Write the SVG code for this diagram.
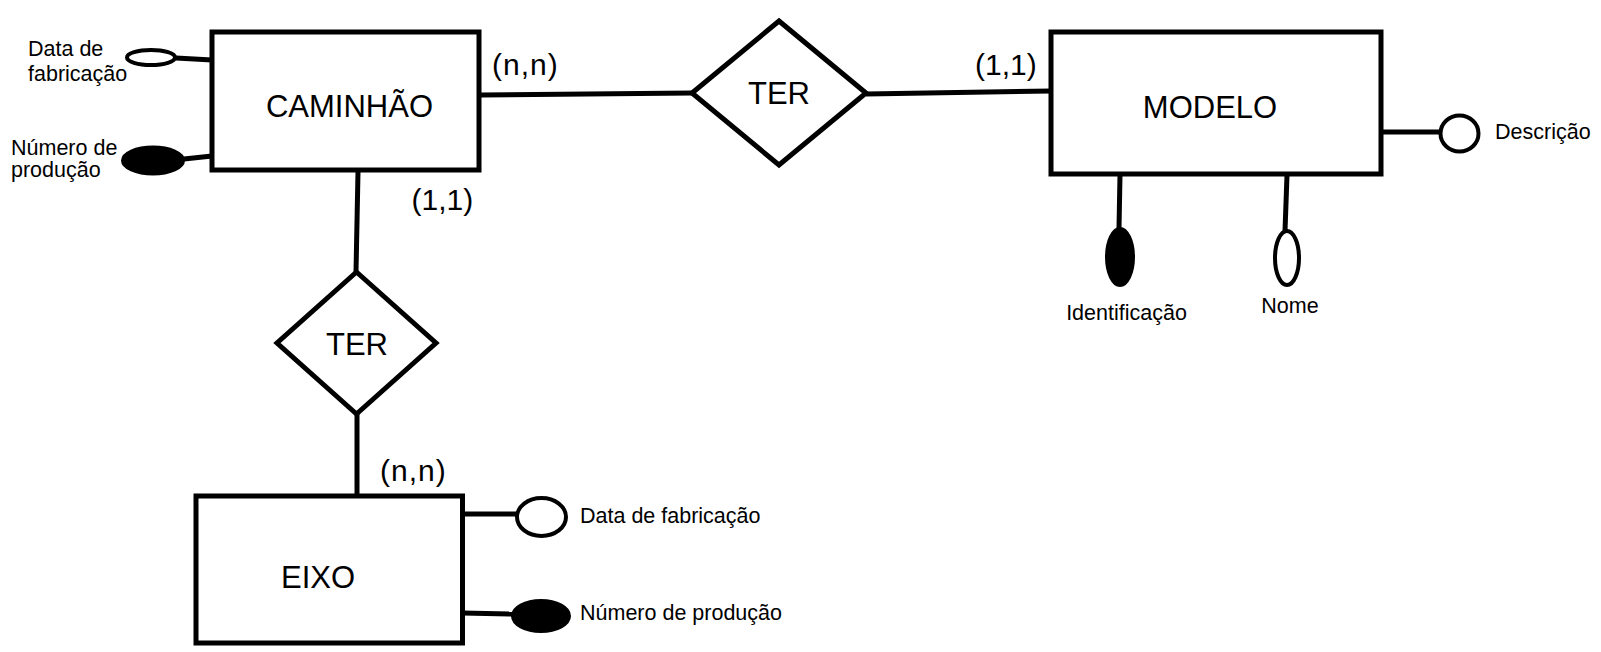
<svg xmlns="http://www.w3.org/2000/svg" width="1601" height="652" viewBox="0 0 1601 652">
<style>
.box{fill:#fff;stroke:#000;stroke-width:5}
.rel{fill:#fff;stroke:#000;stroke-width:5}
.ln{stroke:#000;stroke-width:5;fill:none}
.att{fill:#fff;stroke:#000;stroke-width:4}
.key{fill:#000;stroke:#000;stroke-width:2}
.big{font-family:"Liberation Sans",Arial,sans-serif;font-size:31px;fill:#000}
.card{font-family:"Liberation Sans",Arial,sans-serif;font-size:30px;fill:#000}
.sm{font-family:"Liberation Sans",Arial,sans-serif;font-size:21.5px;fill:#000}
</style>
<rect width="1601" height="652" fill="#fff"/>
<g id="connectors">
<line class="ln" x1="481" y1="95" x2="692" y2="93"/>
<line class="ln" x1="866" y1="94" x2="1051" y2="91"/>
<line class="ln" x1="358" y1="172" x2="356" y2="272"/>
<line class="ln" x1="357" y1="414" x2="357" y2="496"/>
<line class="ln" x1="176" y1="58" x2="212" y2="60"/>
<line class="ln" x1="184" y1="159" x2="212" y2="156"/>
<line class="ln" x1="1381" y1="132" x2="1439" y2="132"/>
<line class="ln" x1="1120" y1="175" x2="1119" y2="228"/>
<line class="ln" x1="1287" y1="175" x2="1285" y2="231"/>
<line class="ln" x1="462" y1="514" x2="516" y2="514"/>
<line class="ln" x1="462" y1="613" x2="512" y2="614"/>
</g>
<g id="caminhao">
<rect class="box" x="212" y="32" width="267" height="138"/>
<text class="big" x="349.5" y="117" text-anchor="middle">CAMINHÃO</text>
</g>
<g id="caminhao-data">
<ellipse class="att" cx="151" cy="57.5" rx="24" ry="7.5"/>
<text class="sm" x="28" y="56">Data de</text>
<text class="sm" x="28" y="81">fabricação</text>
</g>
<g id="caminhao-numero">
<ellipse class="key" cx="153" cy="160.5" rx="31" ry="14"/>
<text class="sm" x="11" y="155">Número de</text>
<text class="sm" x="11" y="177">produção</text>
</g>
<g id="ter1">
<polygon class="rel" points="779,21 866,93 779,165 692,93"/>
<text class="big" x="779" y="104" text-anchor="middle">TER</text>
</g>
<text class="card" x="492" y="75" letter-spacing="1">(n,n)</text>
<text class="card" x="975" y="75">(1,1)</text>
<g id="modelo">
<rect class="box" x="1051" y="32" width="330" height="142"/>
<text class="big" x="1210" y="117.5" text-anchor="middle">MODELO</text>
</g>
<g id="modelo-descricao">
<ellipse class="att" cx="1459.5" cy="133.5" rx="19" ry="18"/>
<text class="sm" x="1495" y="138.5">Descrição</text>
</g>
<g id="modelo-identificacao">
<ellipse class="key" cx="1120" cy="257" rx="14" ry="29"/>
<text class="sm" x="1126.5" y="320" text-anchor="middle">Identificação</text>
</g>
<g id="modelo-nome">
<ellipse class="att" cx="1287" cy="258" rx="12" ry="27"/>
<text class="sm" x="1290" y="313" text-anchor="middle">Nome</text>
</g>
<text class="card" x="411.5" y="210">(1,1)</text>
<g id="ter2">
<polygon class="rel" points="356.5,272 436,343 356.5,414 277,343"/>
<text class="big" x="357" y="355" text-anchor="middle">TER</text>
</g>
<text class="card" x="380" y="481" letter-spacing="1">(n,n)</text>
<g id="eixo">
<rect class="box" x="196" y="496" width="266.5" height="147"/>
<text class="big" x="318" y="588" text-anchor="middle">EIXO</text>
</g>
<g id="eixo-data">
<ellipse class="att" cx="541.5" cy="517" rx="24.5" ry="19"/>
<text class="sm" x="580" y="523">Data de fabricação</text>
</g>
<g id="eixo-numero">
<ellipse class="key" cx="541" cy="616" rx="29" ry="16"/>
<text class="sm" x="580" y="620">Número de produção</text>
</g>
</svg>
